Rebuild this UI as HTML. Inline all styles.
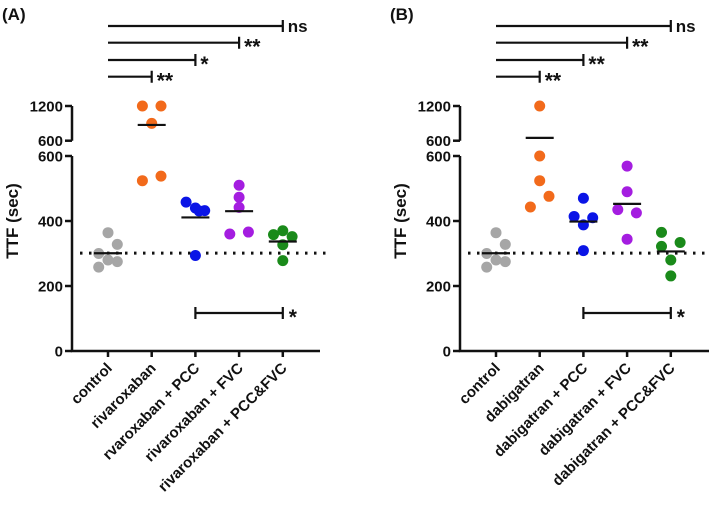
<!DOCTYPE html>
<html><head><meta charset="utf-8"><style>
html,body{margin:0;padding:0;background:#fff;}
svg text{font-family:"Liberation Sans",Arial,sans-serif;font-weight:bold;fill:#111;}
</style></head><body>
<svg id="chart" width="709" height="508" xmlns="http://www.w3.org/2000/svg"></svg>
<script>
const catsA = ["control","rivaroxaban","rvaroxaban + PCC","rivaroxaban + FVC","rivaroxaban + PCC&FVC"];
const catsB = ["control","dabigatran","dabigatran + PCC","dabigatran + FVC","dabigatran + PCC&FVC"];
const colors = ["#a6a6a6","#f26a1b","#0a14e6","#a41de0","#1a8a1a"];
const yTicksLow = [0,200,400,600];
const yTicksHigh = [600,1200];
const valsA = [
  [364,328,300,280,275,258],
  [1200,1200,900,524,538],
  [458,440,432,431,294],
  [510,473,442,360,366],
  [358,370,352,327,278]
];
const valsB = [
  [364,328,300,280,275,258],
  [1200,600,524,476,443],
  [470,414,410,388,309],
  [569,490,435,425,344],
  [365,334,322,280,231]
];
const offsA = [[0,1,-1,0,1,-1],[-1,1,0,-1,1],[-1,0,1,0.4,0],[0,0,0,-1,1],[-1,0,1,0,0]];
const offsB = [[0,1,-1,0,1,-1],[0,0,0,1,-1],[0,-1,1,0,0],[0,0,-1,1,0],[-1,1,-1,0,0]];
const topBarsA = [["ns",4],["**",3],["*",2],["**",1]];
const topBarsB = [["ns",4],["**",3],["**",2],["**",1]];
const bottomStar = "*";
const refLine = 301;

const svg = document.getElementById('chart');
const NS = "http://www.w3.org/2000/svg";
function el(t, a, p){const e=document.createElementNS(NS,t);for(const k in a)e.setAttribute(k,a[k]);(p||svg).appendChild(e);return e;}

function panel(ox, label, cats, vals, offs, bars, axRight){
  const g = el('g',{});
  
  
  const ax = ox, y0 = 351, spacing = 43.7, x0 = ox+36;
  const xs = i => x0 + i*spacing;
  const yLow = v => y0 - v*0.325;
  const yHigh = v => 140.7 - (v-600)*(34.7/600);
  const yv = v => v>600 ? yHigh(v) : yLow(v);
  const pl = el('text',{x:ox-72+2,y:20,'font-size':17},g); pl.textContent=label;
  
  
  const axis = el('path',{d:`M${ax},${yLow(600)}V${y0}H${axRight} M${ax},${yHigh(1200)}V${yHigh(600)}`,stroke:'#111','stroke-width':2.5,fill:'none'},g);
  
  
  yTicksLow.forEach(t=>{
    el('line',{x1:ax-7,x2:ax,y1:yLow(t),y2:yLow(t),stroke:'#111','stroke-width':2.5},g);
    const tx=el('text',{x:ax-9,y:yLow(t)+5.5,'font-size':15,'text-anchor':'end'},g);tx.textContent=t;
    
    
  });
  yTicksHigh.forEach(t=>{
    el('line',{x1:ax-7,x2:ax,y1:yHigh(t),y2:yHigh(t),stroke:'#111','stroke-width':2.5},g);
    const tx=el('text',{x:ax-9,y:yHigh(t)+5.5,'font-size':15,'text-anchor':'end'},g);tx.textContent=t;
    
    
  });
  const yt=el('text',{x:0,y:0,'font-size':17,'text-anchor':'middle',transform:`translate(${ox-54},221) rotate(-90)`},g);
  yt.textContent='TTF (sec)';
  
  
  const dl=el('line',{x1:ax+8,x2:axRight+7,y1:yLow(refLine),y2:yLow(refLine),stroke:'#111','stroke-width':3,'stroke-dasharray':'2.5 6.5'},g);
  
  
  cats.forEach((c,i)=>{
    el('line',{x1:xs(i),x2:xs(i),y1:y0,y2:y0+6,stroke:'#111','stroke-width':2.5},g);
    const tl=el('text',{x:0,y:0,'font-size':15,'text-anchor':'end',transform:`translate(${xs(i)+5},${y0+18}) rotate(-45)`},g);
    tl.textContent=c;
    
    
    vals[i].forEach((v,j)=>{
      const d=el('circle',{cx:xs(i)+offs[i][j]*9.3,cy:yv(v),r:5.5,fill:colors[i]},g);
      
      
    });
    const m = vals[i].reduce((a,b)=>a+b,0)/vals[i].length;
    const ml=el('line',{x1:xs(i)-14,x2:xs(i)+14,y1:yv(m),y2:yv(m),stroke:'#111','stroke-width':2.2},g);
    
    
  });
  const barY=[0,76.7,60,42.7,26];
  bars.forEach(([s,k])=>{
    const y=barY[k], xe=xs(k);
    const b=el('path',{d:`M${xs(0)},${y}H${xe}M${xe},${y-6}V${y+6}`,stroke:'#111','stroke-width':2.2,fill:'none'},g);
    
    
    const t=el('text',{x:xe+5,y:y+(s==='ns'?6:11),'font-size':s==='ns'?17:21},g);t.textContent=s;
    
    
  });
  const by=313;
  const bb=el('path',{d:`M${xs(2)},${by}H${xs(4)}M${xs(2)},${by-6}V${by+6}M${xs(4)},${by-6}V${by+6}`,stroke:'#111','stroke-width':2.2,fill:'none'},g);
  
  
  const bt=el('text',{x:xs(4)+6,y:by+11,'font-size':21},g);bt.textContent=bottomStar;
  
  
}
panel(72,'(A)',catsA,valsA,offsA,topBarsA,320);
panel(460,'(B)',catsB,valsB,offsB,topBarsB,709);
</script>
</body></html>
